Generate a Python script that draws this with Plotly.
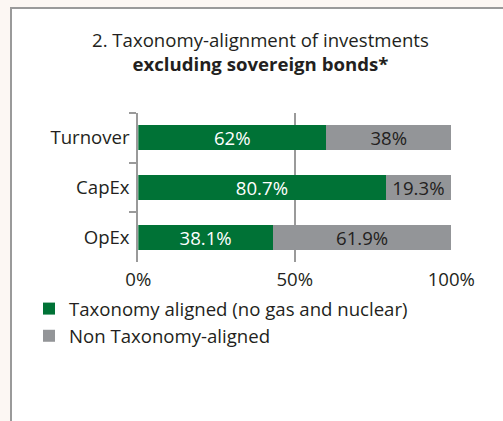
import plotly.graph_objects as go

W, H = 503, 421

categories = ["Turnover", "CapEx", "OpEx"]
aligned = [60.0, 79.0, 43.0]
non_aligned = [40.0, 21.0, 57.0]
aligned_labels = ["62%", "80.7%", "38.1%"]
non_aligned_labels = ["38%", "19.3%", "61.9%"]
x_tickvals = [0, 50, 100]
x_ticktext = ["0%", "50%", "100%"]
series_names = ["Taxonomy aligned (no gas and nuclear)", "Non Taxonomy-aligned"]
title_text = "2. Taxonomy-alignment of investments<br><b>excluding sovereign bonds*</b>"

GREEN = "#007236"
GREY = "#939598"
DARK = "#231f20"
FONT = "Open Sans"
FS = 18.6

def px(x):
    return x / W

def py(y):
    return 1 - y / H

fig = go.Figure()
fig.add_trace(go.Bar(
    y=categories, x=aligned, orientation="h", name=series_names[0],
    marker=dict(color=GREEN, line=dict(width=0)),
    text=aligned_labels, textposition="inside", insidetextanchor="middle",
    constraintext="none",
    textfont=dict(color="white", size=FS, family=FONT),
    hoverinfo="skip",
))
fig.add_trace(go.Bar(
    y=categories, x=non_aligned, orientation="h", name=series_names[1],
    marker=dict(color=GREY, line=dict(width=0)),
    text=non_aligned_labels, textposition="inside", insidetextanchor="middle",
    constraintext="none",
    textfont=dict(color=DARK, size=FS, family=FONT),
    hoverinfo="skip",
))

fig.update_layout(
    width=W, height=H,
    margin=dict(l=0, r=0, t=0, b=0, autoexpand=False),
    paper_bgcolor="#fcf7f3",
    plot_bgcolor="rgba(0,0,0,0)",
    barmode="stack",
    bargap=0.5,
    font=dict(family=FONT, size=FS, color=DARK),
    showlegend=True,
    legend=dict(
        x=px(29), y=py(290), xanchor="left", yanchor="top",
        orientation="v", traceorder="normal",
        font=dict(size=FS, color=DARK, family=FONT),
        bgcolor="rgba(0,0,0,0)", tracegroupgap=0,
        itemclick=False,
    ),
    xaxis=dict(
        domain=[px(138.3), px(451.3)],
        range=[0, 100],
        tickvals=x_tickvals, ticktext=x_ticktext,
        showgrid=True, gridcolor="#9a9a9a", gridwidth=2,
        zeroline=False, showline=False, ticks="",
        ticklabelstandoff=4,
        tickfont=dict(size=FS, color=DARK, family=FONT),
        automargin=False,
        fixedrange=True,
    ),
    yaxis=dict(
        domain=[py(262), py(113)],
        range=[2.5, -0.5],
        autorange=False,
        showline=True, linecolor="#9a9a9a", linewidth=2,
        ticks="outside", ticklen=7, tickcolor="#9a9a9a", tickwidth=2,
        tickson="boundaries",
        ticklabelstandoff=3,
        showgrid=False, zeroline=False,
        tickfont=dict(size=FS, color=DARK, family=FONT),
        automargin=False,
        fixedrange=True,
    ),
    shapes=[
        dict(type="rect", xref="paper", yref="paper",
             x0=px(11), x1=px(520), y0=py(440), y1=py(8),
             fillcolor="white", line=dict(color="#9a9a9a", width=2),
             layer="below"),
    ],
    annotations=[
        dict(text=title_text,
             xref="paper", yref="paper", x=px(260), y=py(51.5),
             xanchor="center", yanchor="middle", showarrow=False,
             font=dict(size=FS, color=DARK, family=FONT), align="center"),
    ],
)

fig.write_html("out.html")
